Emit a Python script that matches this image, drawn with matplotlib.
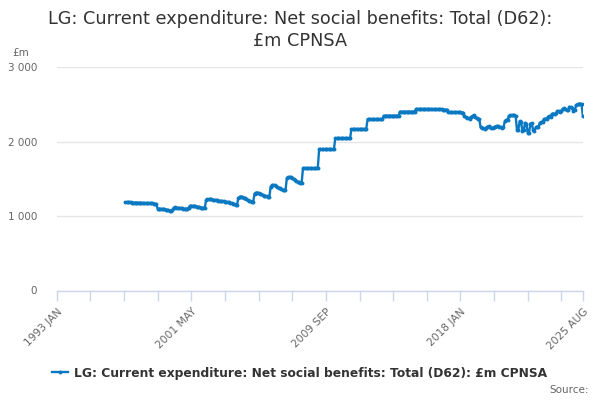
import matplotlib
matplotlib.use("Agg")
import matplotlib.pyplot as plt
import numpy as np

title = "LG: Current expenditure: Net social benefits: Total (D62):\n£m CPNSA"
series_name = "LG: Current expenditure: Net social benefits: Total (D62): £m CPNSA"

# axis covers 1993 JAN .. 2025 AUG (month index 0 .. 391)
axis_start_year = 1993
axis_months = 391
tick_labels = ["1993 JAN", "2001 MAY", "2009 SEP", "2018 JAN", "2025 AUG"]
tick_label_months = [0, 100, 200, 300, 391]
minor_tick_months = [0, 25, 50, 75, 100, 125, 150, 175, 200, 225, 250, 275,
                     300, 325, 350, 375, 391]

# first observation: 1997 APR (month index 51)
first_month = 51

# monthly values, one row per fiscal year (APR..MAR)
values_1997_2007 = [
    1185, 1184, 1183, 1183, 1182, 1181, 1181, 1180, 1179, 1179, 1178, 1178,
    1176, 1175, 1174, 1173, 1172, 1171, 1170, 1169, 1168, 1167, 1165, 1160,
    1098, 1097, 1096, 1095, 1093, 1090, 1087, 1083, 1078, 1073, 1072, 1085,
    1112, 1115, 1114, 1110, 1108, 1106, 1104, 1100, 1098, 1097, 1096, 1110,
    1135, 1138, 1136, 1134, 1130, 1126, 1122, 1118, 1114, 1110, 1108, 1106,
    1215, 1225, 1226, 1224, 1222, 1220, 1218, 1215, 1212, 1208, 1205, 1200,
    1198, 1195, 1192, 1190, 1188, 1185, 1180, 1172, 1165, 1158, 1152, 1150,
    1240, 1258, 1260, 1255, 1248, 1240, 1225, 1215, 1205, 1195, 1190, 1188,
    1300, 1313, 1315, 1310, 1300, 1290, 1282, 1275, 1268, 1262, 1258, 1255,
    1395, 1410, 1415, 1410, 1400, 1390, 1380, 1370, 1360, 1352, 1348, 1345,
    1505, 1520, 1525, 1520, 1510, 1500, 1485, 1470, 1460, 1450, 1445, 1440,
]
values_2008_2017 = [
    1640, 1640, 1640, 1640, 1640, 1640, 1640, 1640, 1640, 1640, 1640, 1640,
    1895, 1895, 1895, 1895, 1895, 1895, 1895, 1895, 1895, 1895, 1895, 1895,
    2042, 2042, 2042, 2042, 2042, 2042, 2042, 2042, 2042, 2042, 2042, 2042,
    2167, 2167, 2167, 2167, 2167, 2167, 2167, 2167, 2167, 2167, 2167, 2167,
    2297, 2297, 2297, 2297, 2297, 2297, 2297, 2297, 2297, 2297, 2297, 2297,
    2346, 2346, 2346, 2346, 2346, 2346, 2346, 2346, 2346, 2346, 2346, 2346,
    2400, 2400, 2400, 2400, 2400, 2400, 2400, 2400, 2400, 2400, 2400, 2400,
    2436, 2436, 2436, 2436, 2436, 2436, 2436, 2436, 2436, 2436, 2436, 2436,
    2430, 2430, 2430, 2430, 2430, 2430, 2430, 2430, 2428, 2428, 2427, 2427,
    2390, 2390, 2390, 2390, 2390, 2390, 2390, 2390, 2390, 2390, 2388, 2388,
]
values_2018_2025 = [
    2340, 2330, 2320, 2310, 2300, 2330, 2345, 2350, 2330, 2310, 2300, 2300,
    2190, 2185, 2175, 2170, 2180, 2200, 2205, 2200, 2185, 2180, 2190, 2200,
    2210, 2205, 2200, 2190, 2185, 2190, 2270, 2290, 2285, 2345, 2350, 2355,
    2350, 2350, 2345, 2160, 2155, 2270, 2265, 2145, 2150, 2250, 2240, 2115,
    2120, 2240, 2245, 2150, 2145, 2190, 2200, 2195, 2250, 2260, 2265, 2300,
    2305, 2300, 2330, 2340, 2335, 2370, 2375, 2370, 2380, 2405, 2410, 2400,
    2415, 2440, 2445, 2430, 2425, 2420, 2465, 2460, 2450, 2415, 2420, 2490,
    2500, 2505, 2510, 2500, 2340,
]

values = values_1997_2007 + values_2008_2017 + values_2018_2025
months = first_month + np.arange(len(values))

line_color = "#0b79c2"
grid_color = "#e6e6e6"
axis_color = "#ccd6eb"
label_color = "#666666"

fig = plt.figure(figsize=(6, 4), dpi=100)
ax = fig.add_axes([0.0945, 0.27375, 0.877, 0.55875])

ax.plot(months, values, color=line_color, linewidth=1.7, marker="o",
        markersize=2.8, markeredgewidth=0, label=series_name, zorder=3)

ax.set_xlim(0, axis_months)
ax.set_ylim(0, 3000)
ax.set_yticks([0, 1000, 2000, 3000])
ax.set_yticklabels(["0", "1 000", "2 000", "3 000"])
ax.yaxis.grid(True, color=grid_color, linewidth=1)
ax.set_axisbelow(True)
ax.tick_params(axis="y", length=0, pad=14, labelsize=7.5, labelcolor=label_color)

ax.set_xticks(minor_tick_months)
lbls = []
for m in minor_tick_months:
    lbls.append(tick_labels[tick_label_months.index(m)] if m in tick_label_months else "")
ax.set_xticklabels(lbls, rotation=45, ha="right", rotation_mode="anchor")
ax.tick_params(axis="x", length=7.5, width=1, color=axis_color, direction="out",
               labelsize=7.7, labelcolor=label_color, pad=4)

for s in ["top", "right", "left"]:
    ax.spines[s].set_visible(False)
ax.spines["bottom"].set_color(axis_color)
ax.spines["bottom"].set_linewidth(1)

fig.text(0.5, 0.925, title, ha="center", va="center", fontsize=12.7,
         color="#333333", linespacing=1.35)
fig.text(0.02, 0.868, "£m", ha="left", va="center", fontsize=7.5, color=label_color)

leg = fig.legend(loc="center", bbox_to_anchor=(0.5, 0.067), frameon=False,
                 fontsize=8.8, handlelength=1.3, handletextpad=0.5)
for t in leg.get_texts():
    t.set_color("#333333")
    t.set_fontweight("bold")

fig.text(0.982, 0.025, "Source:", ha="right", va="center", fontsize=7.5, color=label_color)

fig.savefig("out.png", dpi=100)
